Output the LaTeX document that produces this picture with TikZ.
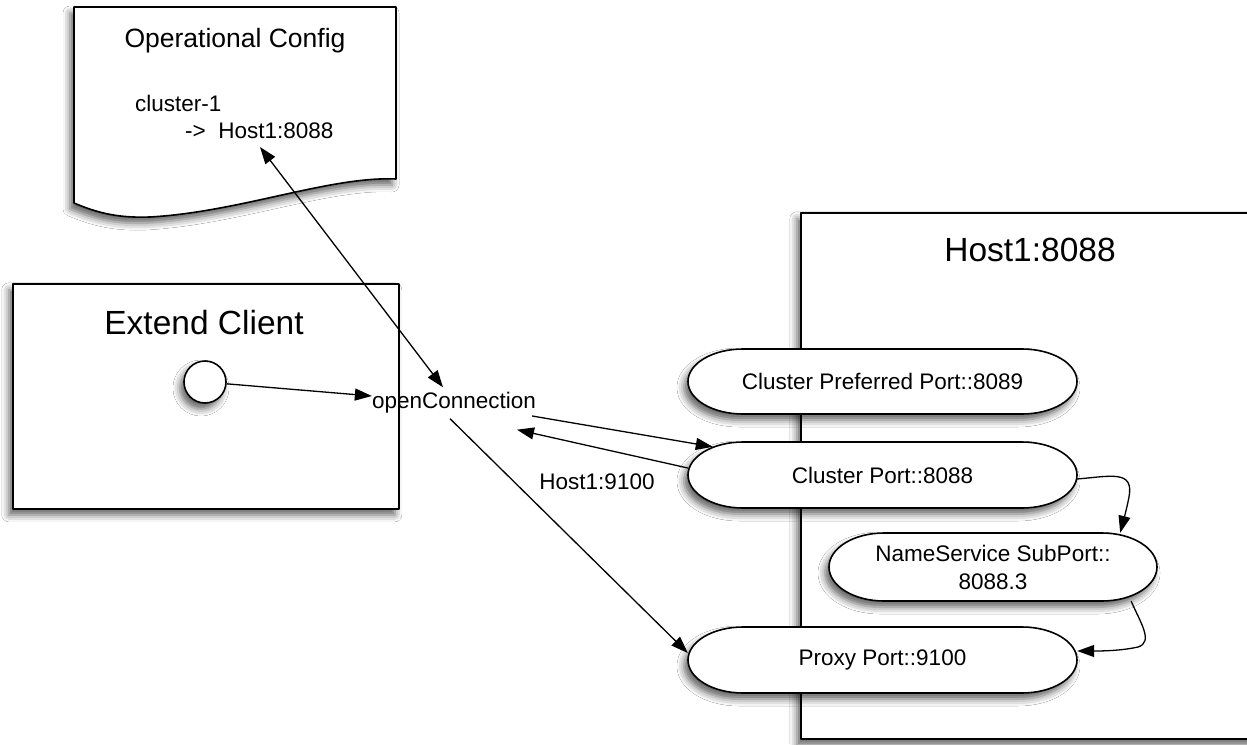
\documentclass[tikz,border=0pt]{standalone}
\usepackage{fontspec}
\setmainfont{Liberation Sans}
\usetikzlibrary{arrows.meta,shadows.blur,calc}

% Pill-shaped port: name, centre x, centre y, width, height, text
\newcommand\portpill[6]{%
  \path[outline,softshadow] (#2-#4/2+55,#3-#5/2) -- (#2+#4/2-55,#3-#5/2)
     arc[start angle=-90,end angle=90,x radius=55,y radius=#5/2]
     -- (#2-#4/2+55,#3+#5/2)
     arc[start angle=90,end angle=270,x radius=55,y radius=#5/2] -- cycle;
  \node[txt, align=center, minimum width=#4pt, minimum height=#5pt] (#1) at (#2,#3) {#6};}

\begin{document}
\begin{tikzpicture}[x=1pt,y=-1pt,
  outline/.style={draw=black, line width=1.6pt, fill=white, line join=round},
  softshadow/.style={blur shadow={shadow xshift=-4pt, shadow yshift=-6pt,
      shadow blur radius=7pt, shadow opacity=62}},
  conn/.style={draw=black, line width=1.3pt},
  tip/.style={-{Triangle[length=17pt,width=12pt]}},
  bothtips/.style={{Triangle[length=17pt,width=12pt]}-{Triangle[length=17pt,width=12pt]}},
  txt/.style={font=\fontsize{22.5}{28}\selectfont, inner sep=0pt},
  bigtxt/.style={font=\fontsize{33.5}{40}\selectfont, inner sep=0pt},
  doctxt/.style={font=\fontsize{26.5}{32}\selectfont, inner sep=0pt},
]
\useasboundingbox (0,0) rectangle (1247,744);
\fill[white] (0,0) rectangle (1247,744);

% configuration document with wavy bottom edge
\path[outline,softshadow] (74,7) -- (396,7) -- (396,179)
  .. controls (330,176) and (240,212) .. (150,217)
  .. controls (120,218) and (100,214) .. (74,203) -- cycle;
\node[doctxt] (cfgtitle) at (235,41) {Operational Config};
\node[txt, anchor=west] (cfgcluster) at (135,103) {cluster-1};
\node[txt, anchor=west] (cfgmap) at (185,131) {->~~Host1:8088};
\coordinate (cfgtip) at (260,147);

% client box
\node[outline, softshadow, anchor=north west, minimum width=386pt, minimum height=225pt] (client) at (12,283) {};
\node[bigtxt] (clienttitle) at (204,323) {Extend Client};
\node[outline, softshadow, circle, minimum size=42pt, inner sep=0pt] (call) at (205,382) {};

% host box
\node[outline, softshadow, anchor=north west, minimum width=480pt, minimum height=526pt] (host) at (800,212) {};
\node[bigtxt] (hosttitle) at (1030,250) {Host1:8088};

% ports
\portpill{pref}{882.5}{381.5}{389}{65}{Cluster Preferred Port::8089}
\portpill{cport}{882.5}{475}{389}{66}{Cluster Port::8088}
\portpill{ns}{993}{567}{328}{68}{NameService SubPort::\\8088.3}
\portpill{proxy}{882.5}{660}{389}{66}{Proxy Port::9100}

% call label
\node[txt] (open) at (454,403) {openConnection};
\node[txt] (hostport) at (597,482) {Host1:9100};

% connectors
\draw[conn,tip] (call) -- ([yshift=7pt]open.west);
\draw[conn,bothtips] (cfgtip) -- ([xshift=-11pt,yshift=5pt]open.north);
\draw[conn,tip] ([xshift=-4pt,yshift=-5pt]open.south) -- ([yshift=7pt]proxy.west);
\draw[conn,tip] ([xshift=-4pt,yshift=-13pt]open.east) -- ([xshift=25pt,yshift=-5pt]cport.north west);
\draw[conn,tip] ([yshift=7pt]cport.west) -- ([xshift=63pt,yshift=-16pt]open.south);
\draw[conn,tip] ([yshift=-4pt]cport.east)
  .. controls (1112,476) and (1134,470) .. (1129,497)
  .. controls (1126,512) and (1123,522) .. ([xshift=-37pt]ns.north east);
\draw[conn,tip] ([xshift=-26pt]ns.south east)
  .. controls (1140,622) and (1154,642) .. (1138,647)
  .. controls (1120,651) and (1100,651) .. ([yshift=9pt]proxy.east);
\end{tikzpicture}
\end{document}
